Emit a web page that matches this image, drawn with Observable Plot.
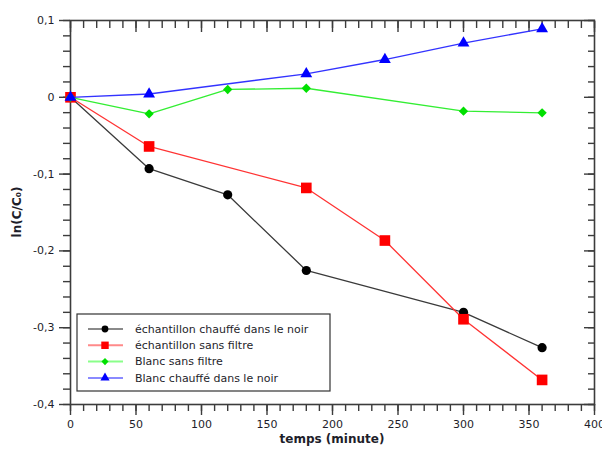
<!DOCTYPE html>
<html>
<head>
<meta charset="utf-8">
<script src="https://cdn.jsdelivr.net/npm/d3@7"></script>
<script src="https://cdn.jsdelivr.net/npm/@observablehq/plot@0.6"></script>
<style>
  html, body { margin: 0; padding: 0; background: #fff; }
  #chart { width: 602px; height: 450px; }
</style>
</head>
<body>
<div id="chart"></div>
<script>
// ---- data ----
const seriesNames = [
  "échantillon chauffé dans le noir",
  "échantillon sans filtre",
  "Blanc sans filtre",
  "Blanc chauffé dans le noir"
];
const blackT = [0, 60, 120, 180, 300, 360];
const blackV = [0, -0.093, -0.127, -0.2255, -0.28, -0.326];
const redT = [0, 60, 180, 240, 300, 360];
const redV = [0, -0.064, -0.118, -0.1865, -0.289, -0.368];
const greenT = [0, 60, 120, 180, 300, 360];
const greenV = [0, -0.0215, 0.0102, 0.0118, -0.0181, -0.0202];
const blueT = [0, 60, 180, 240, 300, 360];
const blueV = [0, 0.0043, 0.0306, 0.0492, 0.0705, 0.0892];

const xMajor = [0, 50, 100, 150, 200, 250, 300, 350, 400];
const xMajorLabels = ["0", "50", "100", "150", "200", "250", "300", "350", "400"];
const xMinor = d3.range(0, 401, 10);
const yMajor = [0.1, 0, -0.1, -0.2, -0.3, -0.4];
const yMajorLabels = ["0,1", "0", "-0,1", "-0,2", "-0,3", "-0,4"];
const yMinor = d3.range(-20, 6, 1).map(d => d / 50);

const xTitle = "temps (minute)";
const yTitle = "ln(C/C₀)";

// ---- styles ----
const styles = [
  {line: "#3a3a3a", fill: "#000000", legendLine: "#8a8a8a", symbol: "circle", r: 4.6, lr: 3.4},
  {line: "#ff3333", fill: "#ff0000", legendLine: "#ff8a8a", symbol: "square", r: 6, lr: 4.2},
  {line: "#33ee33", fill: "#00e000", legendLine: "#8aff8a", symbol: "diamond2", r: 4.2, lr: 3.2},
  {line: "#3333ff", fill: "#0000ff", legendLine: "#8a8aff", symbol: "triangle", r: 4.4, lr: 3.4}
];
const seriesT = [blackT, redT, greenT, blueT];
const seriesV = [blackV, redV, greenV, blueV];
const series = seriesNames.map((name, i) => ({
  name, style: styles[i],
  rows: seriesT[i].map((t, j) => ({t, v: seriesV[i][j], name}))
}));

const axisColor = "#3c3c3c";
const textColor = "#1e1e2a";
const font = "DejaVu Sans";

const xFmt = d => xMajorLabels[xMajor.indexOf(d)];
const yFmt = d => yMajorLabels[yMajor.findIndex(v => Math.abs(v - d) < 1e-9)];

const marks = [
  // bottom axis
  Plot.axisX({ticks: xMinor, tickSize: 7, text: null, stroke: axisColor, strokeWidth: 1.4}),
  Plot.axisX({ticks: xMajor, tickSize: 11, tickPadding: 5, tickFormat: xFmt, stroke: axisColor, strokeWidth: 1.4, fill: textColor, fontSize: 11, label: null}),
  // top mirrored inward ticks
  Plot.axisX({anchor: "top", ticks: xMinor, tickSize: -7, text: null, stroke: axisColor, strokeWidth: 1.4, label: null}),
  Plot.axisX({anchor: "top", ticks: xMajor, tickSize: -11, text: null, stroke: axisColor, strokeWidth: 1.4, label: null}),
  // left axis
  Plot.axisY({ticks: yMinor, tickSize: 7, text: null, stroke: axisColor, strokeWidth: 1.4}),
  Plot.axisY({ticks: yMajor, tickSize: 11, tickPadding: 5, tickFormat: yFmt, stroke: axisColor, strokeWidth: 1.4, fill: textColor, fontSize: 11, label: null}),
  // right mirrored inward ticks
  Plot.axisY({anchor: "right", ticks: yMinor, tickSize: -7, text: null, stroke: axisColor, strokeWidth: 1.4, label: null}),
  Plot.axisY({anchor: "right", ticks: yMajor, tickSize: -11, text: null, stroke: axisColor, strokeWidth: 1.4, label: null}),
  Plot.frame({stroke: axisColor, strokeWidth: 1.6})
];
for (const s of series) {
  marks.push(Plot.line(s.rows, {x: "t", y: "v", stroke: s.style.line, strokeWidth: 1.3}));
  marks.push(Plot.dot(s.rows, {x: "t", y: "v", symbol: () => s.style.symbol, fill: s.style.fill, r: s.style.r, stroke: "none"}));
}

const plot = Plot.plot({
  width: 602,
  height: 450,
  marginLeft: 70,
  marginRight: 8,
  marginTop: 20,
  marginBottom: 46,
  style: {fontFamily: font, fontSize: "11px", background: "#fff", color: textColor},
  x: {domain: [0, 400], label: null},
  y: {domain: [-0.4, 0.1], label: null},
  symbol: {domain: ["circle", "square", "diamond2", "triangle"], range: ["circle", "square", "diamond2", "triangle"]},
  marks
});
document.getElementById("chart").appendChild(plot);

// ---- axis titles & legend drawn into the SVG ----
const svg = d3.select(plot);
const xs = plot.scale("x"), ys = plot.scale("y");
const xMid = (xs.range[0] + xs.range[1]) / 2;
const yMid = (ys.range[0] + ys.range[1]) / 2;

svg.append("text")
  .attr("x", xMid).attr("y", 443)
  .attr("text-anchor", "middle")
  .attr("font-family", font).attr("font-size", 12).attr("font-weight", "bold")
  .attr("fill", textColor)
  .text(xTitle);

svg.append("text")
  .attr("transform", `translate(21,${yMid}) rotate(-90)`)
  .attr("text-anchor", "middle")
  .attr("font-family", font).attr("font-size", 12).attr("font-weight", "bold")
  .attr("fill", textColor)
  .text(yTitle);

const lg = svg.append("g").attr("transform", "translate(77,314)");
lg.append("rect").attr("x", 0).attr("y", 0).attr("width", 253).attr("height", 77)
  .attr("fill", "#fff").attr("stroke", "#333").attr("stroke-width", 1.2);
const symMap = {circle: d3.symbolCircle, square: d3.symbolSquare, diamond2: d3.symbolDiamond2, triangle: d3.symbolTriangle};
series.forEach((s, i) => {
  const yy = 15 + i * 16.3;
  lg.append("line").attr("x1", 11).attr("x2", 46).attr("y1", yy).attr("y2", yy)
    .attr("stroke", s.style.legendLine).attr("stroke-width", 2);
  lg.append("path")
    .attr("d", d3.symbol(symMap[s.style.symbol], Math.PI * s.style.lr * s.style.lr)())
    .attr("transform", `translate(28,${yy})`)
    .attr("fill", s.style.fill);
  lg.append("text").attr("x", 58).attr("y", yy).attr("dy", "0.35em")
    .attr("text-anchor", "start")
    .attr("font-family", font).attr("font-size", 11).attr("fill", textColor)
    .text(s.name);
});
</script>
</body>
</html>
